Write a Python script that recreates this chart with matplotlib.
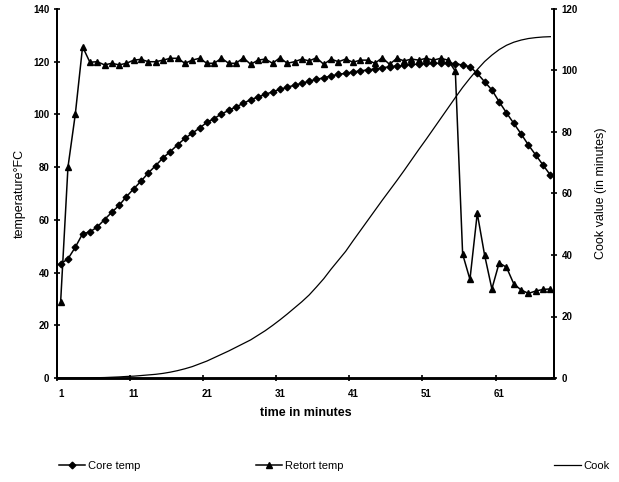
import matplotlib
matplotlib.use("Agg")
import matplotlib.pyplot as plt

plt.rcParams['font.family'] = ['Liberation Sans', 'DejaVu Sans']

# ---------- data ----------
minutes = list(range(1, 69))

core_temp = [43.3, 45.2, 49.6, 54.7, 55.4, 57.3, 60.1, 62.9, 65.5, 68.8,
             71.8, 74.7, 77.8, 80.6, 83.5, 85.9, 88.5, 90.9, 92.9, 94.8,
             97.0, 98.4, 100.2, 101.5, 102.9, 104.2, 105.6, 106.6, 107.6, 108.6,
             109.5, 110.3, 111.1, 111.8, 112.6, 113.3, 113.9, 114.6, 115.2, 115.6,
             116.1, 116.5, 116.9, 117.2, 117.7, 118.1, 118.4, 118.6, 119.0, 119.1,
             119.4, 119.4, 119.5, 119.5, 119.3, 118.7, 118.1, 115.6, 112.4, 109.3,
             104.8, 100.6, 96.6, 92.6, 88.4, 84.6, 80.8, 77.0]

retort_temp = [29.0, 80.0, 100.0, 125.7, 119.8, 120.0, 118.8, 119.4, 118.8, 119.4,
               120.6, 120.9, 120.0, 120.0, 120.6, 121.3, 121.3, 119.4, 120.6, 121.3,
               119.4, 119.4, 121.3, 119.4, 119.4, 121.5, 119.0, 120.6, 121.0, 119.4,
               121.5, 119.4, 120.0, 121.0, 120.3, 121.5, 119.0, 121.0, 120.0, 121.0,
               119.8, 120.6, 120.6, 119.4, 121.5, 119.0, 121.3, 120.3, 121.0, 120.6,
               121.3, 120.6, 121.3, 120.6, 116.4, 47.0, 37.4, 62.5, 46.7, 33.8,
               43.7, 42.0, 35.7, 33.4, 32.1, 33.0, 33.6, 33.8]

cook_value = [0.0, 0.0, 0.0, 0.0, 0.05, 0.1, 0.15, 0.25, 0.35, 0.5,
              0.6, 0.8, 1.0, 1.2, 1.5, 1.9, 2.4, 3.0, 3.7, 4.6,
              5.5, 6.6, 7.7, 8.8, 10.0, 11.2, 12.4, 13.9, 15.4, 17.1,
              18.9, 20.8, 22.8, 24.8, 27.0, 29.6, 32.3, 35.4, 38.3, 41.2,
              44.6, 47.9, 51.2, 54.5, 57.8, 61.0, 64.2, 67.5, 70.9, 74.3,
              77.6, 81.0, 84.4, 87.8, 91.2, 94.5, 97.5, 100.3, 102.9, 105.0,
              106.8, 108.2, 109.2, 109.9, 110.4, 110.7, 110.9, 111.0]

x_labels = [1, 11, 21, 31, 41, 51, 61]

# ---------- figure ----------
fig = plt.figure(figsize=(6.19, 4.82), dpi=100)
ax = fig.add_axes([57 / 619, 1 - 378 / 482, (554 - 57) / 619, (378 - 9) / 482])
ax2 = ax.twinx()

core_line, = ax.plot(minutes, core_temp, color='black', lw=1.1, marker='D',
                     ms=3.4, label='Core temp')
retort_line, = ax.plot(minutes, retort_temp, color='black', lw=1.1, marker='^',
                       ms=4.4, label='Retort temp')
cook_line, = ax2.plot(minutes, cook_value, color='black', lw=0.9, label='Cook')

ax.set_xlim(0.5, 68.5)
ax.set_ylim(0, 140)
ax2.set_ylim(0, 120)

ax.set_yticks(range(0, 141, 20))
ax2.set_yticks(range(0, 121, 20))
ax.set_xticks(x_labels)
ax.set_xticks([v - 0.5 for v in x_labels], minor=True)

for a in (ax, ax2):
    a.spines['top'].set_visible(False)
    a.spines['left'].set_linewidth(1.4)
    a.spines['right'].set_linewidth(1.4)
    a.spines['bottom'].set_linewidth(1.8)

ax.tick_params(axis='y', direction='inout', length=5, width=1.2, labelsize=7, pad=3)
ax2.tick_params(axis='y', direction='inout', length=5, width=1.2, labelsize=7, pad=3)
ax.tick_params(axis='x', which='major', length=0, labelsize=7, pad=8)
ax.tick_params(axis='x', which='minor', direction='inout', length=5, width=1.2)

for lab in ax.get_xticklabels() + ax.get_yticklabels() + ax2.get_yticklabels():
    lab.set_fontweight('bold')

ax.set_xlabel('time in minutes', fontsize=9, fontweight='bold', labelpad=6)
ax.set_ylabel('temperature°FC', fontsize=9, labelpad=5)
ax2.set_ylabel('Cook value (in minutes)', fontsize=9, labelpad=12)

# ---------- legend (three separate entries like the original) ----------
entries = [(core_line, 'Core temp', 0.095),
           (retort_line, 'Retort temp', 0.413),
           (cook_line, 'Cook', 0.895)]
for handle, text, xpos in entries:
    fig.legend(handles=[handle], labels=[text], loc='center left',
               bbox_to_anchor=(xpos, 1 - 466 / 482), frameon=False,
               fontsize=8, handlelength=2.4, handletextpad=0.2,
               borderaxespad=0, borderpad=0)

fig.savefig('out.png', dpi=100)
